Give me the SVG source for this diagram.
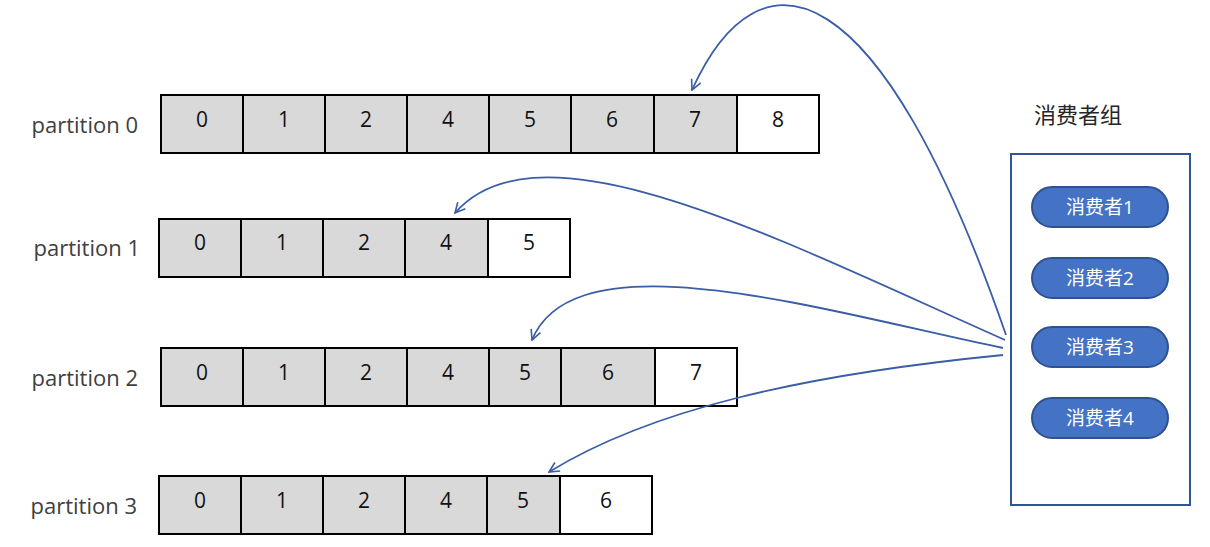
<svg xmlns="http://www.w3.org/2000/svg" width="1210" height="547" viewBox="0 0 1210 547">
<style>
.c{fill:#D9D9D9;stroke:#000;stroke-width:2}
.w{fill:#FFFFFF;stroke:#000;stroke-width:2}
.n{font-family:"Open Sans","Noto Sans",sans-serif;font-size:21px;fill:#111;text-anchor:middle}
.lbl{font-family:"Open Sans","Noto Sans",sans-serif;font-size:22px;fill:#404040;text-anchor:end}
.pill{fill:#4472C4;stroke:#2F528F;stroke-width:2}
.pt{font-family:"Open Sans","Noto Sans CJK SC",sans-serif;font-size:19px;fill:#FFFFFF;text-anchor:middle}
.title{font-family:"Open Sans","Noto Sans CJK SC",sans-serif;font-size:22px;fill:#262626}
.con{fill:none;stroke:#3A5DA5;stroke-width:1.8;marker-end:url(#ah)}
</style>
<defs>
<marker id="ah" viewBox="0 0 12 12" refX="11" refY="6" markerWidth="12" markerHeight="12" markerUnits="userSpaceOnUse" orient="auto">
<path d="M1,1 L11,6 L1,11" fill="none" stroke="#3A5DA5" stroke-width="1.6"/>
</marker>
</defs>
<rect width="1210" height="547" fill="#FFFFFF"/>

<g id="partition0">
<text class="lbl" x="138" y="133">partition 0</text>
<rect class="c" x="161" y="95" width="82" height="58"/>
<rect class="c" x="243" y="95" width="82" height="58"/>
<rect class="c" x="325" y="95" width="82" height="58"/>
<rect class="c" x="407" y="95" width="82" height="58"/>
<rect class="c" x="489" y="95" width="82" height="58"/>
<rect class="c" x="571" y="95" width="83" height="58"/>
<rect class="c" x="654" y="95" width="83" height="58"/>
<rect class="w" x="737" y="95" width="82" height="58"/>
<text class="n" x="202" y="127">0</text>
<text class="n" x="284" y="127">1</text>
<text class="n" x="366" y="127">2</text>
<text class="n" x="448" y="127">4</text>
<text class="n" x="530" y="127">5</text>
<text class="n" x="612" y="127">6</text>
<text class="n" x="695" y="127">7</text>
<text class="n" x="778" y="127">8</text>
</g>

<g id="partition1">
<text class="lbl" x="140" y="256">partition 1</text>
<rect class="c" x="159" y="219" width="82" height="58"/>
<rect class="c" x="241" y="219" width="82" height="58"/>
<rect class="c" x="323" y="219" width="82" height="58"/>
<rect class="c" x="405" y="219" width="83" height="58"/>
<rect class="w" x="488" y="219" width="82" height="58"/>
<text class="n" x="200" y="250">0</text>
<text class="n" x="282" y="250">1</text>
<text class="n" x="364" y="250">2</text>
<text class="n" x="446" y="250">4</text>
<text class="n" x="529" y="250">5</text>
</g>

<g id="partition2">
<text class="lbl" x="138" y="386">partition 2</text>
<rect class="c" x="161" y="348" width="82" height="58"/>
<rect class="c" x="243" y="348" width="82" height="58"/>
<rect class="c" x="325" y="348" width="82" height="58"/>
<rect class="c" x="407" y="348" width="82" height="58"/>
<rect class="c" x="489" y="348" width="72" height="58"/>
<rect class="c" x="561" y="348" width="94" height="58"/>
<rect class="w" x="655" y="348" width="82" height="58"/>
<text class="n" x="202" y="380">0</text>
<text class="n" x="284" y="380">1</text>
<text class="n" x="366" y="380">2</text>
<text class="n" x="448" y="380">4</text>
<text class="n" x="525" y="380">5</text>
<text class="n" x="608" y="380">6</text>
<text class="n" x="696" y="380">7</text>
</g>

<g id="partition3">
<text class="lbl" x="137" y="514">partition 3</text>
<rect class="c" x="159" y="476" width="82" height="58"/>
<rect class="c" x="241" y="476" width="82" height="58"/>
<rect class="c" x="323" y="476" width="82" height="58"/>
<rect class="c" x="405" y="476" width="82" height="58"/>
<rect class="c" x="487" y="476" width="73" height="58"/>
<rect class="w" x="560" y="476" width="92" height="58"/>
<text class="n" x="200" y="508">0</text>
<text class="n" x="282" y="508">1</text>
<text class="n" x="364" y="508">2</text>
<text class="n" x="446" y="508">4</text>
<text class="n" x="523" y="508">5</text>
<text class="n" x="606" y="508">6</text>
</g>

<g id="consumer-group">
<text class="title" x="1034" y="123">消费者组</text>
<rect x="1011" y="154" width="179" height="351" fill="#FFFFFF" stroke="#2F5597" stroke-width="2"/>
</g>
<g id="consumer1">
<rect class="pill" x="1032" y="187" width="136" height="40" rx="20"/>
<text class="pt" x="1100" y="214">消费者1</text>
</g>
<g id="consumer2">
<rect class="pill" x="1032" y="258" width="136" height="40" rx="20"/>
<text class="pt" x="1100" y="285">消费者2</text>
</g>
<g id="consumer3">
<rect class="pill" x="1032" y="327" width="136" height="40" rx="20"/>
<text class="pt" x="1100" y="354">消费者3</text>
</g>
<g id="consumer4">
<rect class="pill" x="1032" y="398" width="136" height="40" rx="20"/>
<text class="pt" x="1100" y="425">消费者4</text>
</g>

<g id="connectors">
<path class="con" d="M1006,335 C880,-30 760,-60 692,90"/>
<path class="con" d="M1005,340 C780,240 540,115 455,213"/>
<path class="con" d="M1003,348 C820,310 575,235 532,340"/>
<path class="con" d="M1003,355 C800,375 650,410 549,472"/>
</g>
</svg>
